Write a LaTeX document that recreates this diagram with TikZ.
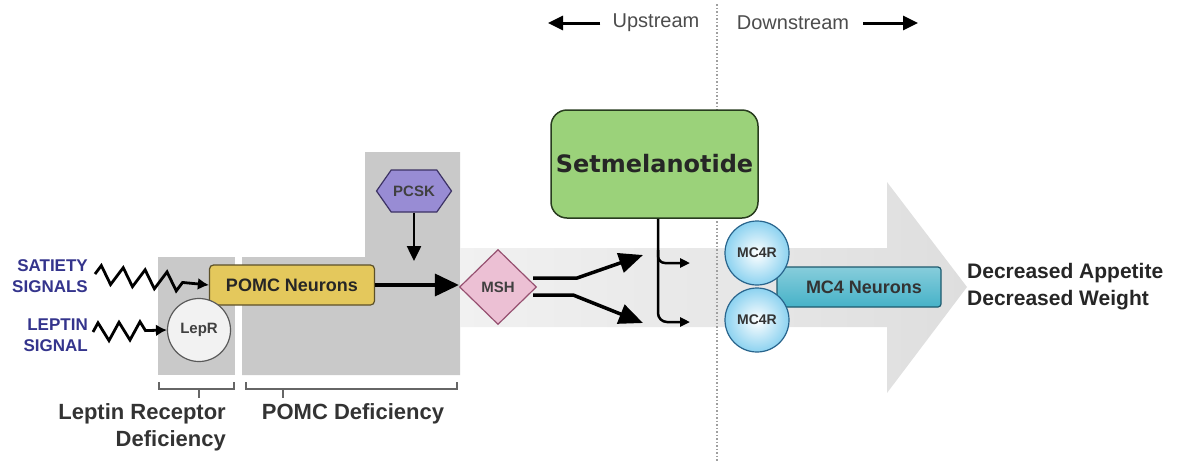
\documentclass[tikz,border=0pt]{standalone}
\usepackage{fontspec}
\setmainfont{Liberation Sans}
\newfontfamily\drugfont{DejaVu Sans}
\usepackage{tikz}
\usetikzlibrary{arrows.meta,positioning,calc,shapes.geometric,shapes.symbols,decorations.pathmorphing}
\definecolor{defgray}{RGB}{201,201,201}
\definecolor{bandlight}{RGB}{241,241,241}
\definecolor{banddark}{RGB}{222,222,222}
\definecolor{pomcfill}{RGB}{228,200,92}
\definecolor{pomcline}{RGB}{92,80,40}
\definecolor{pcskfill}{RGB}{152,140,212}
\definecolor{pcskline}{RGB}{60,50,100}
\definecolor{mshfill}{RGB}{236,192,212}
\definecolor{mshline}{RGB}{150,80,112}
\definecolor{drugfill}{RGB}{155,210,122}
\definecolor{drugline}{RGB}{40,60,30}
\definecolor{mcfill}{RGB}{70,178,200}
\definecolor{mcline}{RGB}{30,90,110}
\definecolor{recfill}{RGB}{140,210,240}
\definecolor{recline}{RGB}{40,100,140}
\definecolor{signalblue}{RGB}{52,52,140}

\begin{document}
\begin{tikzpicture}[x=1pt,y=-1pt,>=Latex,every node/.style={font=\bfseries,align=center,inner sep=0pt}]
\useasboundingbox (0,0) rectangle (1177,461);
% shaded deficiency regions
\fill[defgray] (158,257) rectangle (235,375);
\fill[defgray] (242,257) -- (365,257) -- (365,152) -- (460,152) -- (460,375) -- (242,375) -- cycle;
% big pathway arrow
\shade[left color=bandlight,right color=banddark] (460,248) -- (887,248) -- (887,182) -- (967,287) -- (887,393) -- (887,327) -- (460,327) -- cycle;
\draw[gray!75,dotted,line width=1.5] (717,4) -- (717,461);
% nodes
\node[draw=pomcline,line width=1.2,rounded corners=4,fill=pomcfill,minimum width=165,minimum height=40,font=\bfseries\fontsize{18}{20}\selectfont,text=black!85] (pomc) at (292,285) {POMC Neurons};
\node[draw=black!65,line width=1.2,circle,fill=black!5,minimum size=63,font=\bfseries\fontsize{15}{17}\selectfont,text=black!75] (lepr) at (199,330) {LepR};
\node[draw=pcskline,line width=1.2,signal,signal to=east and west,signal pointer angle=110,fill=pcskfill,minimum width=75,minimum height=42,font=\bfseries\fontsize{15}{17}\selectfont,text=black!75] (pcsk) at (414,191) {PCSK};
\node[draw=mshline,line width=1.2,diamond,fill=mshfill,minimum width=77,minimum height=75,font=\bfseries\fontsize{15}{17}\selectfont,text=black!75] (msh) at (498,287) {MSH};
\node[draw=drugline,line width=1.5,rounded corners=16,fill=drugfill,minimum width=207,minimum height=108,font=\drugfont\bfseries\fontsize{24}{26}\selectfont,text=black!85] (drug) at (654.5,164) {Setmelanotide};
\node[draw=mcline,line width=1.2,rounded corners=3,top color=mcfill!65!white,bottom color=mcfill,minimum width=164,minimum height=40,font=\bfseries\fontsize{18}{20}\selectfont,text=black!80] (mcn) at (859,287) {\hspace{10pt}MC4 Neurons};
\node[draw=recline,line width=1.2,circle,inner color=white,outer color=recfill,minimum size=64,font=\bfseries\fontsize{14}{15}\selectfont,text=black!80] (mcup) at (757,253) {MC4R};
\node[draw=recline,line width=1.2,circle,inner color=white,outer color=recfill,minimum size=64,font=\bfseries\fontsize{14}{15}\selectfont,text=black!80] (mclow) at (757,320) {MC4R};
% texts
\node[anchor=east,align=right,text=signalblue,font=\bfseries\fontsize{17}{21}\selectfont] (satiety) at (88,276) {SATIETY\\SIGNALS};
\node[anchor=east,align=right,text=signalblue,font=\bfseries\fontsize{17}{21}\selectfont] (leptin) at (88,335) {LEPTIN\\SIGNAL};
\node[anchor=west,align=left,text=black!85,font=\bfseries\fontsize{21}{27}\selectfont] (outcome) at (967,287) {Decreased Appetite\\Decreased Weight};
\node[anchor=north east,align=right,text=black!80,font=\bfseries\fontsize{22}{27}\selectfont] (leprdef) at (226,403) {Leptin Receptor\\Deficiency};
\node[anchor=north,text=black!80,font=\bfseries\fontsize{22}{27}\selectfont] (pomcdef) at (353,403) {POMC Deficiency};
\node[text=black!70,font=\mdseries\fontsize{20}{22}\selectfont] (upstream) at (656,23) {Upstream};
\node[text=black!70,font=\mdseries\fontsize{20}{22}\selectfont] (downstream) at (793,23) {Downstream};
% free ends
\coordinate (satstart) at (95,274);
\coordinate (lepstart) at (93,332);
\coordinate (pcskend) at (414,261);
\coordinate (uptip) at (643,255);
\coordinate (lowtip) at (643,323);
\coordinate (uparrow) at (548,23);
\coordinate (downarrow) at (918,23);
% connectors
\draw[line width=2.8,-{Latex[length=11,width=12]},decorate,decoration={zigzag,segment length=22,amplitude=9,post length=16}] (satstart) -- (pomc.west);
\draw[line width=2.8,-{Latex[length=11,width=12]},decorate,decoration={zigzag,segment length=21,amplitude=9,post length=14}] (lepstart) -- (lepr.west);
\draw[line width=3.5,-{Triangle[length=24,width=22]}] (pomc.east) -- (pomc.east -| msh.west);
\draw[line width=2.5,-{Triangle[length=15,width=14]}] (pcsk.south) -- (pcskend);
\draw[line width=3.5,-{Triangle[length=24,width=20]}] ($(msh.east)+(-4,-9)$) -- ++(44,0) -- (uptip);
\draw[line width=3.5,-{Triangle[length=24,width=20]}] ($(msh.east)+(-4,8)$) -- ++(40,0) -- (lowtip);
\draw[line width=2.5,rounded corners=9,-{Triangle[length=10,width=9]}] (drug.south -| 658,0) -- (658,322) -- (690,322);
\draw[line width=2.5,rounded corners=7,-{Triangle[length=10,width=9]}] (658,250) |- (690,263);
\draw[line width=3,-{Triangle[length=15,width=14]}] (upstream.west) ++(-12,0) -- (uparrow);
\draw[line width=3,-{Triangle[length=15,width=14]}] (downstream.east) ++(14,0) -- (downarrow);
% brackets
\draw[black!60,line width=1.4] (159,382) -- (159,389) -- (234,389) -- (234,382) (199,389) -- (199,398);
\draw[black!60,line width=1.4] (246,382) -- (246,389) -- (457,389) -- (457,382) (283,389) -- (283,398);
\end{tikzpicture}
\end{document}
